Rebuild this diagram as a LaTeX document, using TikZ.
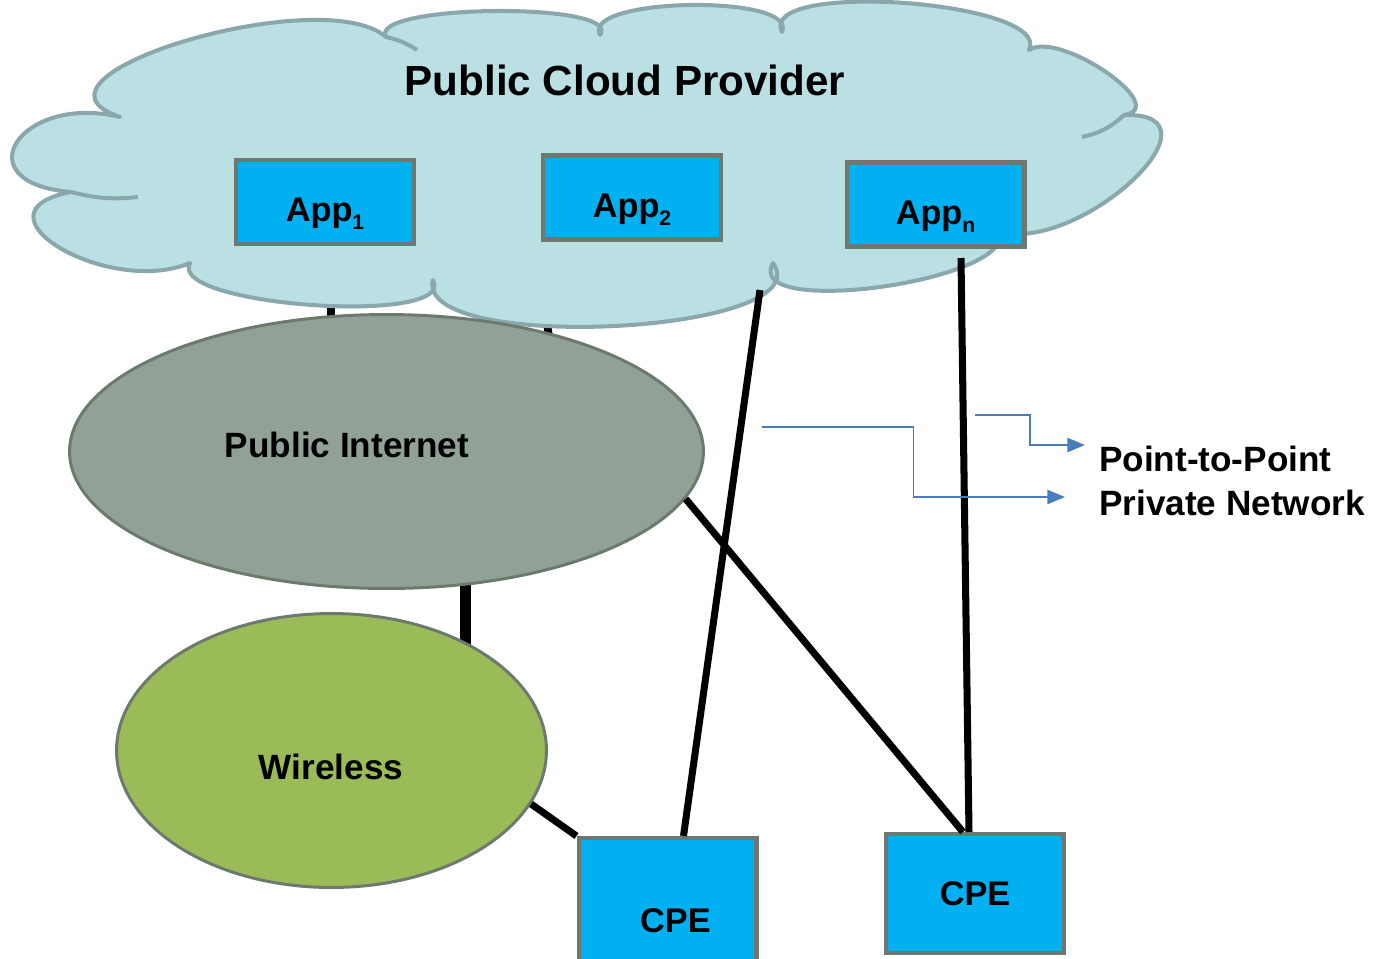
\documentclass[tikz,border=0pt]{standalone}
\usepackage{fontspec}
\setmainfont{Liberation Sans}
\usetikzlibrary{calc, positioning, arrows.meta, shapes.geometric}

\definecolor{cloudfill}{RGB}{186,224,228}
\definecolor{cloudedge}{RGB}{138,168,172}
\definecolor{appblue}{RGB}{0,176,240}
\definecolor{boxedge}{RGB}{108,120,112}
\definecolor{netgray}{RGB}{145,161,149}
\definecolor{netedge}{RGB}{108,122,110}
\definecolor{wlgreen}{RGB}{155,187,89}
\definecolor{arrowblue}{RGB}{74,126,187}

\pgfdeclarelayer{bg}
\pgfsetlayers{bg,main}

% one bump of the cloud: from #1 through #2 to #3
\newcommand{\bump}[3]{.. controls ($0.4333*(#1)+1.3333*(#2)-0.7667*(#3)$) and ($0.4333*(#3)+1.3333*(#2)-0.7667*(#1)$) .. (#3)}
\newcommand{\lowsub}[1]{\raisebox{-4.5pt}{\fontsize{12}{12}\selectfont #1}}

\begin{document}
\begin{tikzpicture}[x=0.02cm, y=-0.02cm,
  cloud/.style={fill=cloudfill, draw=cloudedge, line width=2.3pt, line join=round},
  cloudln/.style={draw=cloudedge, line width=2.3pt},
  app/.style={draw=boxedge, fill=appblue, line width=2.3pt, inner sep=0pt, minimum width=3.56cm, minimum height=1.68cm, font=\fontsize{19.5}{23}\selectfont\bfseries, text height=24pt, text depth=1.4pt},
  cpe/.style={draw=boxedge, fill=appblue, line width=2.3pt, inner sep=0pt, minimum width=3.56cm, font=\fontsize{19.5}{23}\selectfont\bfseries},
  net/.style={ellipse, draw=netedge, line width=1.7pt, inner sep=0pt, minimum height=5.48cm},
  lbl/.style={font=\fontsize{20}{24.5}\selectfont\bfseries},
  link/.style={line width=4pt},
  ptparrow/.style={arrowblue, line width=1.1pt, -{Triangle[length=10pt,width=8pt]}}]
  \useasboundingbox (0,0) rectangle (1377,958);

  % cloud outline points
  \foreach \nm/\x/\y in {n1/120/117, e1/185/41, n2/386/37, e2/495/11, n3/600/35, e3/690/5,
      n4/782/32, e4/905/3, n5/1029/50, e5/1106/72, n6/1124/115, e6/1133/180,
      n7/1000/232, e7/880/287, n8/773/263, e8/615/326, n9/433/280, e9/312/305,
      n10/190/263, e10/60/248, n11/71/192, e11/17/142}
    \coordinate (\nm) at (\x,\y);

  \draw[cloud] (n1) \bump{n1}{e1}{n2} \bump{n2}{e2}{n3} \bump{n3}{e3}{n4} \bump{n4}{e4}{n5}
    \bump{n5}{e5}{n6} \bump{n6}{e6}{n7} \bump{n7}{e7}{n8} \bump{n8}{e8}{n9}
    \bump{n9}{e9}{n10} \bump{n10}{e10}{n11} \bump{n11}{e11}{n1} -- cycle;
  \draw[cloudln] (n2) to[bend left=10] (417,50);
  \draw[cloudln] (n6) to[bend left=15] (1082,137);
  \draw[cloudln] (n11) to[bend right=10] (138,197);

  \node[lbl, font=\fontsize{24}{28}\selectfont\bfseries] (cloudtxt) at (625,80) {Public Cloud Provider};

  \node[net, fill=netgray, minimum width=12.68cm] (inet) at (386.5,451.5) {};
  \node[net, fill=wlgreen, minimum width=8.6cm] (wless) at (331.5,750.5) {};
  \node[lbl] (inettxt) at (347,445) {Public Internet};
  \node[lbl] (wlesstxt) at (331,767) {Wireless};

  \node[app] (app1) at (325,202) {App\lowsub{1}};
  \node[app] (app2) at (632,197.5) {App\lowsub{2}};
  \node[app] (appn) at (935.5,204.5) {App\lowsub{n}};

  \node[cpe, minimum height=2.6cm, text height=34pt, text depth=0pt] (cpe1) at (667.5,903) {\hspace{9pt}CPE};
  \node[cpe, minimum height=2.38cm] (cpe2) at (975,893.5) {CPE};

  \node[lbl, anchor=base west, align=left] (pnet) at (1093,515) {Point-to-Point\\Private Network};

  \coordinate (q2) at (544,300);
  \coordinate (q3) at (760,290);
  \coordinate (qn) at (961,258);
  \coordinate (pa) at (762,427);
  \coordinate (ea) at (1065,497);
  \coordinate (pb) at (975,415);
  \coordinate (eb) at (1085,445);

  \begin{pgfonlayer}{bg}
    \draw[link, line width=4.5pt] ($(app1.south)+(6,0)$) -- ++(0,100);
    \draw[link, line width=4.5pt] (q2) -- ++(6,45);
    \draw[link, line width=6pt] ($(inet.center)+(79,0)$) -- ($(wless.center)+(134,0)$);
  \end{pgfonlayer}

  \draw[link] (q3) -- ($(cpe1.north)+(16,0)$);
  \draw[link] (inet.-9) -- ($(cpe2.north)+(-12,0)$);
  \draw[link] (qn) -- ($(cpe2.north)+(-6,0)$);
  \draw[link] (wless.-15) -- (cpe1.north west);

  \draw[ptparrow] (pa) -| ($(pa)!0.5!(ea)$) |- (ea);
  \draw[ptparrow] (pb) -| ($(pb)!0.5!(eb)$) |- (eb);
\end{tikzpicture}
\end{document}
